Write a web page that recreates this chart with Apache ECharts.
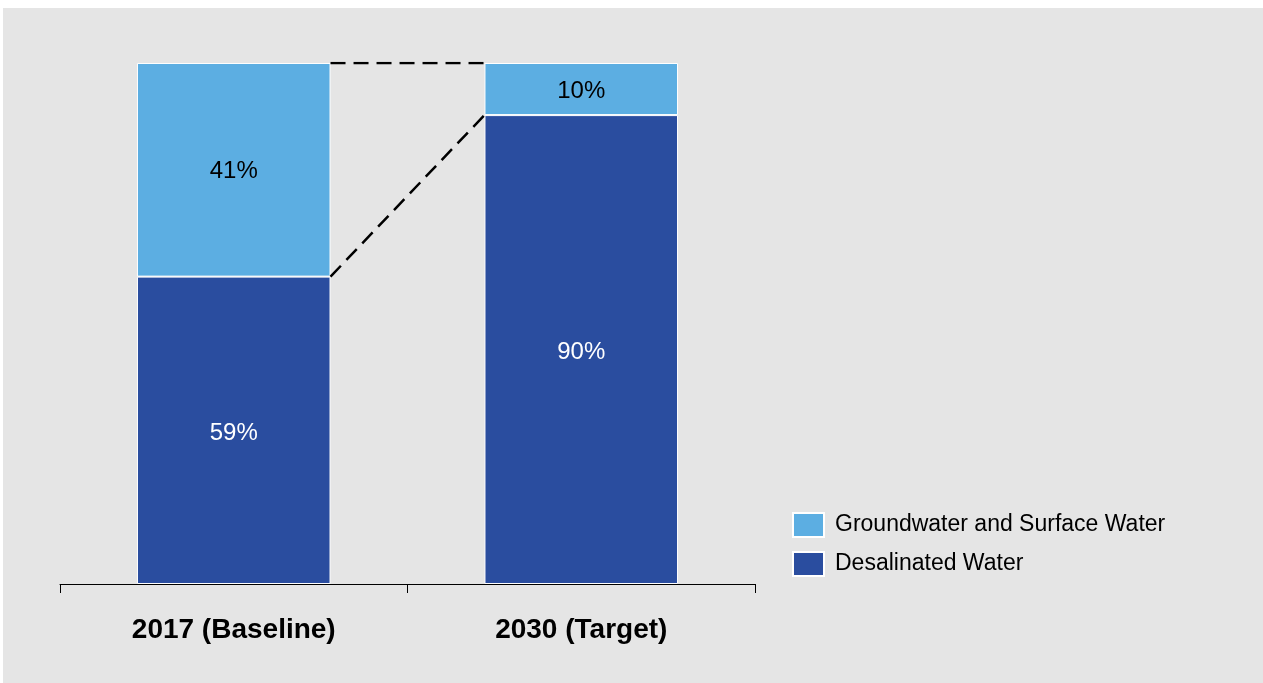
<!DOCTYPE html>
<html>
<head>
<meta charset="utf-8">
<script src="https://cdn.jsdelivr.net/npm/echarts@6/dist/echarts.min.js"></script>
<style>
  html, body { margin: 0; padding: 0; background: #ffffff; }
  #bg { position: absolute; left: 3px; top: 8px; width: 1260px; height: 675px; background: #e5e5e5; }
  #chart { position: absolute; left: 0; top: 0; width: 1263px; height: 683px; }
</style>
</head>
<body>
<div id="bg"></div>
<div id="chart"></div>
<script>
// ---- data ----
const categories = ['2017 (Baseline)', '2030 (Target)'];
const desalinated = [59, 90];
const groundwater = [41, 10];
const seriesNames = ['Desalinated Water', 'Groundwater and Surface Water'];
const legendOrder = ['Groundwater and Surface Water', 'Desalinated Water'];

// ---- style ----
const FONT = '"Liberation Sans", Arial, sans-serif';
const LIGHT = '#5caee2';
const DARK = '#2a4d9f';
const BAR_FRAC = 0.557; // bar width as fraction of category band

// connector line endpoints on a hidden value x-axis spanning [0, n]
const rightEdge0 = 0.5 + BAR_FRAC / 2;
const leftEdge1 = 1.5 - BAR_FRAC / 2;
const top0 = desalinated[0] + groundwater[0];
const top1 = desalinated[1] + groundwater[1];

const chart = echarts.init(document.getElementById('chart'), null, { renderer: 'canvas' });
chart.setOption({
  backgroundColor: 'transparent',
  animation: false,
  textStyle: { fontFamily: FONT },
  grid: { left: 60, right: 508, top: 63, bottom: 99, containLabel: false },
  legend: {
    data: legendOrder,
    orient: 'vertical',
    left: 792,
    top: 512,
    padding: 0,
    itemWidth: 31,
    itemHeight: 24,
    itemGap: 13,
    icon: 'rect',
    selectedMode: false,
    textStyle: { fontFamily: FONT, fontSize: 23, lineHeight: 24, color: '#000', padding: [0, 0, 0, 6] }
  },
  xAxis: [
    {
      type: 'category',
      data: categories,
      axisLine: { show: true, lineStyle: { color: '#000', width: 1 } },
      axisTick: { show: true, length: 9, lineStyle: { color: '#000', width: 1 } },
      axisLabel: { fontFamily: FONT, fontSize: 28, fontWeight: 'bold', color: '#000', margin: 32 },
      splitLine: { show: false }
    },
    {
      type: 'value',
      min: 0,
      max: categories.length,
      show: false
    }
  ],
  yAxis: {
    type: 'value',
    min: 0,
    max: 100,
    show: false,
    splitLine: { show: false }
  },
  series: [
    {
      name: seriesNames[0],
      type: 'bar',
      stack: 'total',
      barWidth: (BAR_FRAC * 100) + '%',
      data: desalinated,
      itemStyle: { color: DARK, borderColor: '#ffffff', borderWidth: 1 },
      label: { show: true, position: 'inside', offset: [0, 3], formatter: '{c}%', color: '#ffffff', fontSize: 24, fontFamily: FONT }
    },
    {
      name: seriesNames[1],
      type: 'bar',
      stack: 'total',
      barWidth: (BAR_FRAC * 100) + '%',
      data: groundwater,
      itemStyle: { color: LIGHT, borderColor: '#ffffff', borderWidth: 1 },
      label: { show: true, position: 'inside', offset: [0, 2], formatter: '{c}%', color: '#000000', fontSize: 24, fontFamily: FONT }
    },
    {
      name: 'connectorTop',
      type: 'line',
      xAxisIndex: 1,
      yAxisIndex: 0,
      data: [[rightEdge0, top0], [leftEdge1, top1]],
      symbol: 'none',
      silent: true,
      z: 5,
      lineStyle: { color: '#000', width: 2.5, type: [15, 8] }
    },
    {
      name: 'connectorMid',
      type: 'line',
      xAxisIndex: 1,
      yAxisIndex: 0,
      data: [[rightEdge0, desalinated[0]], [leftEdge1, desalinated[1]]],
      symbol: 'none',
      silent: true,
      z: 5,
      lineStyle: { color: '#000', width: 2.5, type: [15, 8] }
    }
  ]
});
</script>
</body>
</html>
